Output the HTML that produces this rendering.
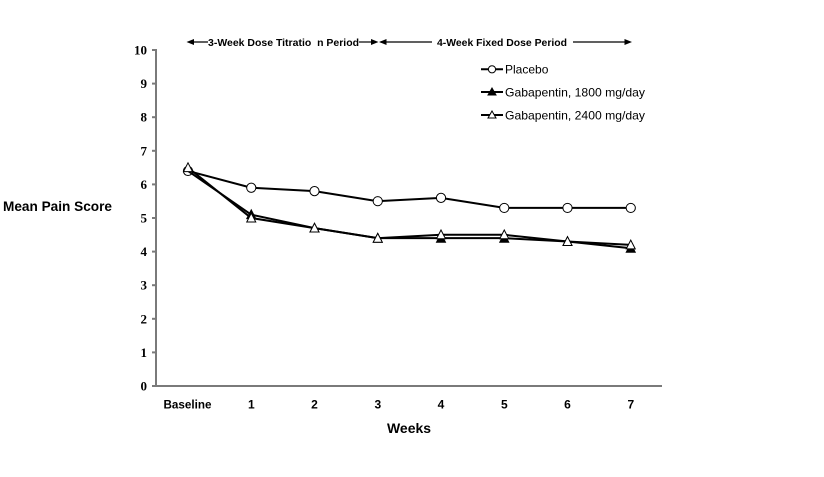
<!DOCTYPE html>
<html>
<head>
<meta charset="utf-8">
<style>
html,body{margin:0;padding:0;background:#fff;}
svg{display:block;}
</style>
</head>
<body>
<svg width="824" height="477" viewBox="0 0 824 477" xmlns="http://www.w3.org/2000/svg">
<rect width="824" height="477" fill="#fff"/>

<!-- top annotation -->
<g stroke="#000" stroke-width="1.2" fill="#000">
  <line x1="190" y1="42" x2="208" y2="42"/>
  <polygon points="186.5,42 194,39 194,45" stroke="none"/>
  <line x1="359" y1="42" x2="372" y2="42"/>
  <polygon points="378.5,42 371,39 371,45" stroke="none"/>
  <polygon points="379,42 386.5,39 386.5,45" stroke="none"/>
  <line x1="386" y1="42" x2="432" y2="42"/>
  <line x1="573" y1="42" x2="626" y2="42"/>
  <polygon points="632,42 624.5,39 624.5,45" stroke="none"/>
</g>
<g font-family="Liberation Sans, Arial, sans-serif" font-weight="bold" font-size="10.5" fill="#000">
  <text x="208" y="46" textLength="151" lengthAdjust="spacingAndGlyphs" xml:space="preserve" style="white-space:pre">3-Week Dose Titratio  n Period</text>
  <text x="437" y="46" textLength="130" lengthAdjust="spacingAndGlyphs">4-Week Fixed Dose Period</text>
</g>

<!-- axes -->
<g stroke="#7a7a7a" stroke-width="2">
  <line x1="156" y1="49" x2="156" y2="387"/>
  <line x1="155" y1="386" x2="662" y2="386"/>
  <line x1="152" y1="50" x2="156" y2="50"/>
  <line x1="152" y1="83.6" x2="156" y2="83.6"/>
  <line x1="152" y1="117.2" x2="156" y2="117.2"/>
  <line x1="152" y1="150.8" x2="156" y2="150.8"/>
  <line x1="152" y1="184.4" x2="156" y2="184.4"/>
  <line x1="152" y1="218" x2="156" y2="218"/>
  <line x1="152" y1="251.6" x2="156" y2="251.6"/>
  <line x1="152" y1="285.2" x2="156" y2="285.2"/>
  <line x1="152" y1="318.8" x2="156" y2="318.8"/>
  <line x1="152" y1="352.4" x2="156" y2="352.4"/>
  <line x1="152" y1="386" x2="156" y2="386"/>
</g>

<!-- y tick labels -->
<g font-family="Liberation Serif, Times New Roman, serif" font-weight="bold" font-size="13" fill="#000" text-anchor="end">
  <text x="147" y="54.5">10</text>
  <text x="147" y="88.1">9</text>
  <text x="147" y="121.7">8</text>
  <text x="147" y="155.3">7</text>
  <text x="147" y="188.9">6</text>
  <text x="147" y="222.5">5</text>
  <text x="147" y="256.1">4</text>
  <text x="147" y="289.7">3</text>
  <text x="147" y="323.3">2</text>
  <text x="147" y="356.9">1</text>
  <text x="147" y="390.5">0</text>
</g>

<!-- x tick labels -->
<g font-family="Liberation Sans, Arial, sans-serif" font-weight="bold" font-size="12" fill="#000" text-anchor="middle">
  <text x="163.5" y="408.5" text-anchor="start" textLength="48" lengthAdjust="spacingAndGlyphs">Baseline</text>
  <text x="251.3" y="408.5">1</text>
  <text x="314.5" y="408.5">2</text>
  <text x="377.8" y="408.5">3</text>
  <text x="441" y="408.5">4</text>
  <text x="504.3" y="408.5">5</text>
  <text x="567.5" y="408.5">6</text>
  <text x="630.8" y="408.5">7</text>
</g>

<!-- axis titles -->
<g font-family="Liberation Sans, Arial, sans-serif" font-weight="bold" fill="#000">
  <text x="3" y="211" font-size="13.6" textLength="109" lengthAdjust="spacingAndGlyphs">Mean Pain Score</text>
  <text x="387" y="433" font-size="14" textLength="44" lengthAdjust="spacingAndGlyphs">Weeks</text>
</g>

<!-- series: placebo -->
<polyline fill="none" stroke="#000" stroke-width="2" points="188,170.96 251.25,187.76 314.5,191.12 377.75,201.2 441,197.84 504.25,207.92 567.5,207.92 630.75,207.92"/>
<g fill="#fff" stroke="#000" stroke-width="1">
  <circle cx="188" cy="170.96" r="4.6"/>
  <circle cx="251.25" cy="187.76" r="4.6"/>
  <circle cx="314.5" cy="191.12" r="4.6"/>
  <circle cx="377.75" cy="201.2" r="4.6"/>
  <circle cx="441" cy="197.84" r="4.6"/>
  <circle cx="504.25" cy="207.92" r="4.6"/>
  <circle cx="567.5" cy="207.92" r="4.6"/>
  <circle cx="630.75" cy="207.92" r="4.6"/>
</g>

<!-- series: 1800 filled triangle -->
<polyline fill="none" stroke="#000" stroke-width="2" points="188,170.96 251.25,214.64 314.5,228.08 377.75,238.16 441,238.16 504.25,238.16 567.5,241.52 630.75,248.24"/>
<g fill="#000" stroke="#000" stroke-width="1">
  <polygon points="251.25,209.8 246.75,218.6 255.75,218.6"/>
  <polygon points="314.5,223.3 310,232 319,232"/>
  <polygon points="377.75,233.4 373.25,242.2 382.25,242.2"/>
  <polygon points="441,233.4 436.5,242.2 445.5,242.2"/>
  <polygon points="504.25,233.4 499.75,242.2 508.75,242.2"/>
  <polygon points="567.5,236.7 563,245.5 572,245.5"/>
  <polygon points="630.75,243.4 626.25,252.2 635.25,252.2"/>
</g>

<!-- series: 2400 open triangle -->
<polyline fill="none" stroke="#000" stroke-width="2" points="188,167.6 251.25,218 314.5,228.08 377.75,238.16 441,234.8 504.25,234.8 567.5,241.52 630.75,244.88"/>
<g fill="#fff" stroke="#000" stroke-width="1">
  <polygon points="188,162.8 183.5,171.6 192.5,171.6"/>
  <polygon points="251.25,213.2 246.75,222 255.75,222"/>
  <polygon points="314.5,223.3 310,232 319,232"/>
  <polygon points="377.75,233.4 373.25,242.2 382.25,242.2"/>
  <polygon points="441,230 436.5,238.8 445.5,238.8"/>
  <polygon points="504.25,230 499.75,238.8 508.75,238.8"/>
  <polygon points="567.5,236.7 563,245.5 572,245.5"/>
  <polygon points="630.75,240.1 626.25,248.9 635.25,248.9"/>
</g>

<!-- legend -->
<g stroke="#000" stroke-width="2">
  <line x1="481" y1="69.3" x2="503" y2="69.3"/>
  <line x1="481" y1="92" x2="503" y2="92"/>
  <line x1="481" y1="115" x2="503" y2="115"/>
</g>
<circle cx="492" cy="69.3" r="3.6" fill="#fff" stroke="#000" stroke-width="1"/>
<polygon points="492,88 488,95 496,95" fill="#000" stroke="#000" stroke-width="1"/>
<polygon points="492,111 488,118 496,118" fill="#fff" stroke="#000" stroke-width="1"/>
<g font-family="Liberation Sans, Arial, sans-serif" font-size="12" fill="#000">
  <text x="505" y="73.5">Placebo</text>
  <text x="505" y="96.3" textLength="140" lengthAdjust="spacingAndGlyphs">Gabapentin, 1800 mg/day</text>
  <text x="505" y="119.3" textLength="140" lengthAdjust="spacingAndGlyphs">Gabapentin, 2400 mg/day</text>
</g>
</svg>
</body>
</html>
